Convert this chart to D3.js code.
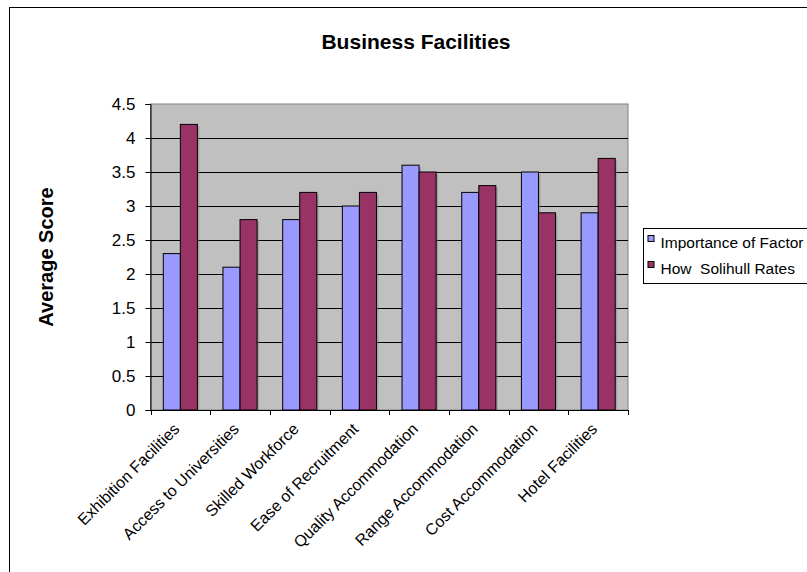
<!DOCTYPE html>
<html>
<head>
<meta charset="utf-8">
<script src="https://cdn.jsdelivr.net/npm/d3@7"></script>
<style>
  html, body { margin: 0; padding: 0; background: #fff; }
  svg { display: block; font-family: Arial, "Liberation Sans", sans-serif; }
</style>
</head>
<body>
<svg id="chart" width="807" height="572"></svg>
<script>
// Business facilities survey: importance vs. Solihull rating
const categories = [
  "Exhibition Facilities", "Access to Universities", "Skilled Workforce",
  "Ease of Recruitment", "Quality Accommodation", "Range Accommodation",
  "Cost Accommodation", "Hotel Facilities"
];
const importance = [2.3, 2.1, 2.8, 3.0, 3.6, 3.2, 3.5, 2.9];
const solihull = [4.2, 2.8, 3.2, 3.2, 3.5, 3.3, 2.9, 3.7];
const seriesNames = ["Importance of Factor", "How  Solihull Rates"];
const seriesColors = ["#9999FF", "#993366"];
const yTicks = [0, 0.5, 1, 1.5, 2, 2.5, 3, 3.5, 4, 4.5];

const svg = d3.select("#chart");

// outer chart frame
svg.append("rect")
  .attr("x", 9.5).attr("y", 7.5)
  .attr("width", 900).attr("height", 700)
  .attr("fill", "#fff").attr("stroke", "#000").attr("stroke-width", 1);

const plot = { left: 150.5, top: 104, right: 628, bottom: 410 };

const x0 = d3.scaleBand()
  .domain(categories)
  .range([plot.left, plot.right])
  .paddingInner(0).paddingOuter(0);

const barW = x0.bandwidth() / 3.5;   // gap width 150%

const y = d3.scaleLinear().domain([0, 4.5]).range([plot.bottom, plot.top]);

// plot background
svg.append("rect")
  .attr("x", plot.left).attr("y", plot.top)
  .attr("width", plot.right - plot.left).attr("height", plot.bottom - plot.top)
  .attr("fill", "#C0C0C0").attr("stroke", "#808080").attr("stroke-width", 1);

// gridlines
svg.append("g")
  .selectAll("line")
  .data(yTicks.filter(d => d > 0 && d < 4.5))
  .join("line")
  .attr("x1", plot.left).attr("x2", plot.right)
  .attr("y1", d => Math.round(y(d)) + 0.5).attr("y2", d => Math.round(y(d)) + 0.5)
  .attr("stroke", "#000").attr("stroke-width", 1);

// bars
const rows = categories.map((c, i) => ({ c, vals: [importance[i], solihull[i]] }));
const groups = svg.append("g").selectAll("g")
  .data(rows)
  .join("g")
  .attr("transform", d => `translate(${x0(d.c) + (x0.bandwidth() - 2 * barW) / 2},0)`);

// soft drop shadow behind bars
groups.selectAll("rect.shadow")
  .data(d => d.vals)
  .join("rect")
  .attr("class", "shadow")
  .attr("x", (d, j) => j * barW + 2)
  .attr("y", d => y(d) + 2)
  .attr("width", barW)
  .attr("height", d => y(0) - y(d) - 2)
  .attr("fill", "#808080").attr("opacity", 0.45);

groups.selectAll("rect.bar")
  .data(d => d.vals)
  .join("rect")
  .attr("class", "bar")
  .attr("x", (d, j) => j * barW)
  .attr("y", d => y(d))
  .attr("width", barW)
  .attr("height", d => y(0) - y(d))
  .attr("fill", (d, j) => seriesColors[j])
  .attr("stroke", "#000").attr("stroke-width", 1);

// y axis
const yAxis = d3.axisLeft(y)
  .tickValues(yTicks)
  .tickFormat(d => String(d))
  .tickSize(5).tickPadding(10);
const yg = svg.append("g")
  .attr("transform", `translate(${plot.left},0)`)
  .call(yAxis);
yg.select(".domain").attr("stroke", "#000");
yg.selectAll(".tick line").attr("stroke", "#000");
yg.selectAll(".tick text")
  .attr("font-size", 17).attr("fill", "#000")
  .attr("font-family", "Arial, 'Liberation Sans', sans-serif");

// x axis with ticks at category boundaries
const xg = svg.append("g")
  .attr("transform", `translate(0,${plot.bottom})`);
xg.append("line")
  .attr("x1", plot.left).attr("x2", plot.right)
  .attr("y1", 0.5).attr("y2", 0.5)
  .attr("stroke", "#000");
const boundaries = categories.map(c => x0(c)).concat([plot.right]);
xg.selectAll("line.tk")
  .data(boundaries)
  .join("line")
  .attr("class", "tk")
  .attr("x1", d => Math.round(d) + 0.5).attr("x2", d => Math.round(d) + 0.5)
  .attr("y1", 0).attr("y2", 5)
  .attr("stroke", "#000");

xg.selectAll("text")
  .data(categories)
  .join("text")
  .attr("transform", d => `translate(${x0(d) + x0.bandwidth() / 2},${20}) rotate(-45)`)
  .attr("text-anchor", "end")
  .attr("font-size", 16)
  .attr("fill", "#000")
  .text(d => d);

// title
svg.append("text")
  .attr("x", 416).attr("y", 49)
  .attr("text-anchor", "middle")
  .attr("font-size", 21).attr("font-weight", "bold")
  .text("Business Facilities");

// y axis title
svg.append("text")
  .attr("transform", `translate(53,${(plot.top + plot.bottom) / 2}) rotate(-90)`)
  .attr("text-anchor", "middle")
  .attr("font-size", 20).attr("font-weight", "bold")
  .text("Average Score");

// legend
const lg = svg.append("g").attr("transform", "translate(643.5,228.5)");
lg.append("rect")
  .attr("width", 200).attr("height", 55)
  .attr("fill", "#fff").attr("stroke", "#000");
seriesNames.forEach((name, i) => {
  lg.append("rect")
    .attr("x", 4.5).attr("y", 7 + i * 26)
    .attr("width", 6).attr("height", 6)
    .attr("fill", seriesColors[i]).attr("stroke", "#000");
  lg.append("text")
    .attr("x", 17).attr("y", 19 + i * 26)
    .attr("font-size", 15.5)
    .attr("xml:space", "preserve")
    .style("white-space", "pre")
    .text(name);
});
</script>
</body>
</html>
